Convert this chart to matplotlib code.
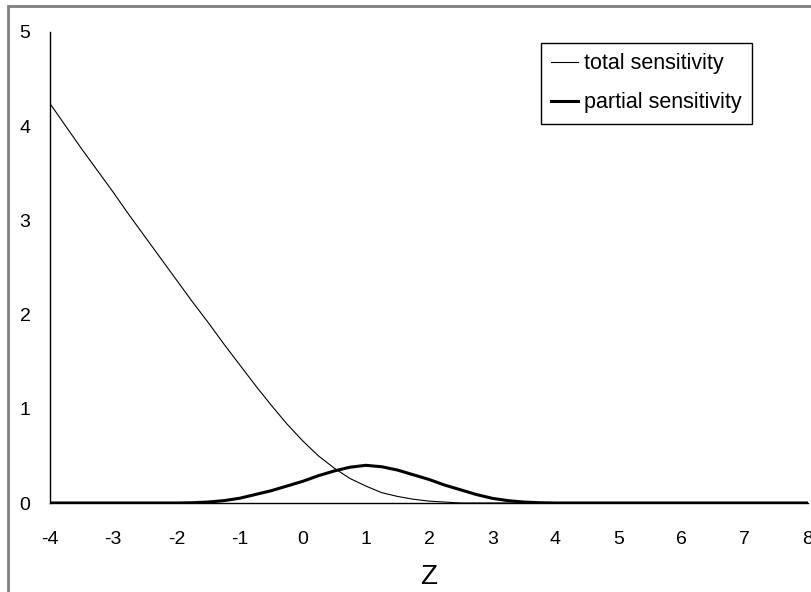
import matplotlib
matplotlib.use("Agg")
import matplotlib.pyplot as plt
from matplotlib.patches import Rectangle
import numpy as np

# values (step 0.25 in Z)
z = [-4 + 0.25 * i for i in range(49)]
total_sens = [4.24, 4.00, 3.76, 3.53, 3.30, 3.06, 2.83, 2.60, 2.37, 2.14,
              1.92, 1.69, 1.47, 1.25, 1.04, 0.84, 0.66, 0.50, 0.37, 0.26,
              0.18, 0.11, 0.07, 0.04, 0.02, 0.01, 0.0, 0.0, 0.0, 0.0,
              0.0, 0.0, 0.0, 0.0, 0.0, 0.0, 0.0, 0.0, 0.0, 0.0,
              0.0, 0.0, 0.0, 0.0, 0.0, 0.0, 0.0, 0.0, 0.0]
partial_sens = [0.0, 0.0, 0.0, 0.0, 0.0, 0.0, 0.0, 0.0, 0.0, 0.003,
                0.01, 0.025, 0.05, 0.09, 0.13, 0.18, 0.23, 0.29, 0.34, 0.38,
                0.40, 0.385, 0.35, 0.30, 0.25, 0.19, 0.14, 0.09, 0.05, 0.025,
                0.01, 0.003, 0.0, 0.0, 0.0, 0.0, 0.0, 0.0, 0.0, 0.0,
                0.0, 0.0, 0.0, 0.0, 0.0, 0.0, 0.0, 0.0, 0.0]
xticks = list(range(-4, 9))
yticks = list(range(0, 6))

plt.rcParams['font.family'] = ['Liberation Sans', 'DejaVu Sans']
plt.rcParams['axes.unicode_minus'] = False

W, H = 811, 592
fig = plt.figure(figsize=(W / 100, H / 100), dpi=100)
ax = fig.add_axes([50 / W, 1 - 503 / H, 758 / W, 471 / H])

ax.plot(z, total_sens, color='black', lw=0.8, label='total sensitivity')
ax.plot(z, partial_sens, color='black', lw=2.2, label='partial sensitivity')

ax.set_xlim(-4, 8)
ax.set_ylim(0, 5)
ax.set_xticks(xticks)
ax.set_yticks(yticks)
ax.tick_params(axis='both', length=0, labelsize=14)
ax.tick_params(axis='x', pad=20)
ax.tick_params(axis='y', pad=14)
for s in ['top', 'right']:
    ax.spines[s].set_visible(False)
for s in ['left', 'bottom']:
    ax.spines[s].set_linewidth(1)
ax.set_xlabel('Z', fontsize=20, labelpad=12)

leg = ax.legend(loc='upper left', bbox_to_anchor=(541 / W, 1 - 43 / H),
                bbox_transform=fig.transFigure, borderaxespad=0,
                fontsize=15.5, handlelength=1.25, handletextpad=0.3,
                labelspacing=0.85, borderpad=0.47, fancybox=False,
                framealpha=1, edgecolor='black')
leg.get_frame().set_linewidth(1)

# outer chart border (runs off the right and bottom edges)
fig.patches.append(Rectangle((8 / W, -0.1), 1.2, 1.1 - 6 / H, fill=False,
                             edgecolor='#808080', lw=2,
                             transform=fig.transFigure))

fig.savefig('out.png', dpi=100)
